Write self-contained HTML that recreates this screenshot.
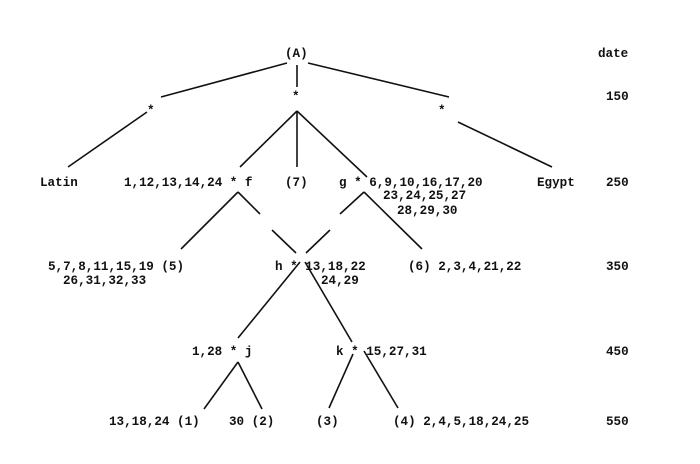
<!DOCTYPE html>
<html><head><meta charset="utf-8"><style>
html,body{margin:0;padding:0;background:#fff;width:700px;height:464px;overflow:hidden}
text{font-family:"Liberation Mono",monospace;font-weight:bold;font-size:12.6px;fill:#111}
line{stroke:#111;stroke-width:1.6}
</style></head><body>
<svg width="700" height="464" xmlns="http://www.w3.org/2000/svg">
<text x="285" y="57">(A)</text>
<text x="598" y="57">date</text>
<text x="606" y="100">150</text>
<text x="606" y="186">250</text>
<text x="606" y="270">350</text>
<text x="606" y="355">450</text>
<text x="606" y="425">550</text>

<line x1="287" y1="63" x2="161" y2="97"/>
<line x1="297" y1="65" x2="297" y2="87"/>
<line x1="308" y1="63" x2="449" y2="97"/>
<text x="147" y="114">*</text>
<text x="292" y="100">*</text>
<text x="438" y="114">*</text>

<line x1="147" y1="112" x2="68" y2="167"/>
<line x1="297" y1="111" x2="240" y2="167"/>
<line x1="297" y1="111" x2="297" y2="167"/>
<line x1="297" y1="111" x2="367" y2="177"/>
<line x1="458" y1="122" x2="552" y2="167"/>

<text x="40" y="186">Latin</text>
<text x="124" y="186">1,12,13,14,24 * f</text>
<text x="285" y="186">(7)</text>
<text x="339" y="186">g * 6,9,10,16,17,20</text>
<text x="383" y="199">23,24,25,27</text>
<text x="397" y="214">28,29,30</text>
<text x="537" y="186">Egypt</text>

<line x1="238" y1="192" x2="181" y2="249"/>
<line x1="238" y1="192" x2="260" y2="214"/>
<line x1="272" y1="230" x2="296" y2="253"/>
<line x1="364" y1="192" x2="340" y2="214"/>
<line x1="330" y1="230" x2="306" y2="253"/>
<line x1="364" y1="192" x2="422" y2="249"/>

<text x="48" y="270">5,7,8,11,15,19 (5)</text>
<text x="63" y="284">26,31,32,33</text>
<text x="275" y="270">h * 13,18,22</text>
<text x="321" y="284">24,29</text>
<text x="408" y="270">(6) 2,3,4,21,22</text>

<line x1="300" y1="262" x2="238" y2="338"/>
<line x1="305" y1="262" x2="352" y2="342"/>

<text x="192" y="355">1,28 * j</text>
<text x="336" y="355">k * 15,27,31</text>

<line x1="238" y1="362" x2="204" y2="409"/>
<line x1="238" y1="362" x2="262" y2="409"/>
<line x1="353" y1="354" x2="329" y2="408"/>
<line x1="364" y1="351" x2="398" y2="408"/>

<text x="109" y="425">13,18,24 (1)</text>
<text x="229" y="425">30 (2)</text>
<text x="316" y="425">(3)</text>
<text x="393" y="425">(4) 2,4,5,18,24,25</text>
</svg>
</body></html>
